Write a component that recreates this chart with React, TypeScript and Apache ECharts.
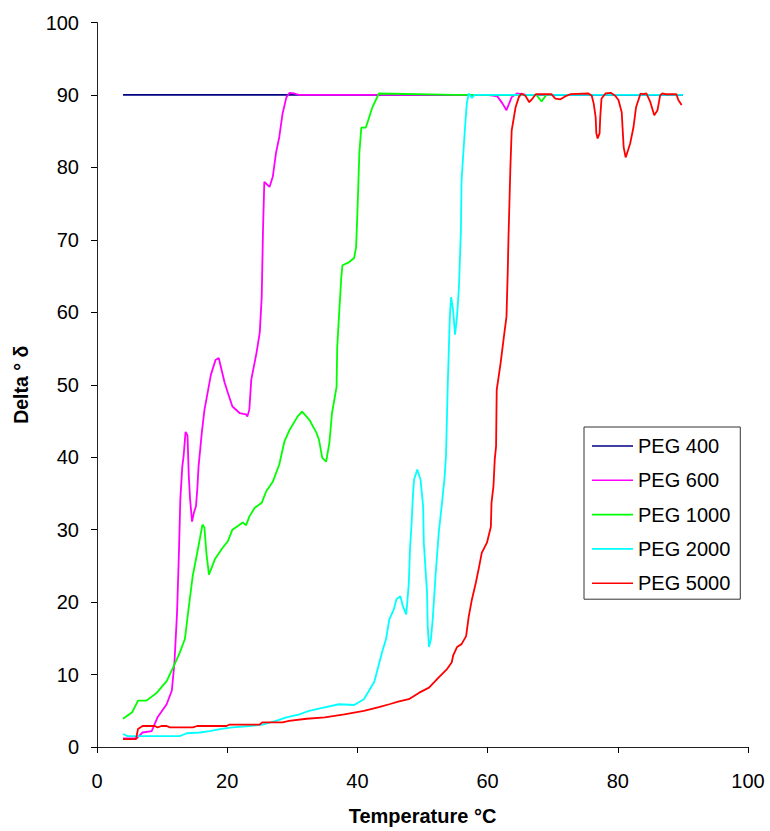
import React, { useEffect, useRef } from "react";
import * as echarts from "echarts";

// Temperature (°C) and phase angle delta (°) readings for each PEG grade
const peg400Temp = [4, 90];
const peg400Delta = [90, 90];

const peg600Temp = [4, 6.1, 7.0, 8.4, 9.3, 10.7, 11.5, 11.9, 12.3, 12.6, 12.8, 13.1, 13.3, 13.6, 13.9, 14.1, 14.3, 14.6, 14.9, 15.2, 15.4, 15.6, 16.1, 16.5, 17.5, 18.2, 18.7, 19.6, 20.1, 20.8, 21.9, 22.9, 23.1, 23.4, 23.7, 24.5, 25.0, 25.3, 25.5, 25.7, 26.5, 27.0, 27.5, 28.0, 28.5, 29.1, 29.6, 30.3, 31, 45, 60, 61.5, 62.3, 62.9, 63.7, 64.5, 66];
const peg600Delta = [1.2, 1.2, 2.0, 2.2, 4.1, 5.9, 7.8, 11.7, 18.6, 27.3, 34.2, 38.7, 40.1, 43.5, 43.0, 37.4, 34.2, 31.1, 32.4, 33.2, 35.5, 38.7, 43.4, 46.5, 51.4, 53.4, 53.7, 50.3, 48.9, 47.0, 46.1, 45.9, 45.6, 46.6, 50.7, 54.4, 57.2, 62.1, 71.3, 78.0, 77.3, 78.7, 82.0, 84.2, 87.4, 89.7, 90.3, 90.2, 90, 90, 90, 89.8, 88.8, 87.9, 89.7, 90.2, 90];

const peg1000Temp = [4.0, 5.4, 6.3, 7.6, 9.2, 10.7, 11.7, 12.7, 13.5, 14.0, 14.7, 15.5, 16.2, 16.5, 16.8, 17.2, 18.1, 19.3, 20.1, 20.8, 22.4, 22.9, 23.4, 24.2, 25.3, 26.0, 27.0, 28.0, 28.8, 29.6, 30.8, 31.5, 32.6, 33.7, 34.1, 34.6, 35.2, 35.7, 36.1, 36.8, 36.9, 37.2, 37.5, 37.7, 38.7, 39.5, 39.8, 40.0, 40.3, 40.6, 41.3, 41.8, 42.3, 43.3, 55, 67.5, 68.3, 69.0, 70];
const peg1000Delta = [3.9, 4.8, 6.4, 6.4, 7.5, 9.1, 11.0, 13.0, 14.9, 18.6, 23.6, 27.3, 30.7, 30.3, 26.8, 23.8, 25.9, 27.5, 28.4, 30.0, 31.0, 30.6, 31.8, 33.0, 33.7, 35.3, 36.6, 39.0, 42.2, 43.8, 45.6, 46.3, 45.2, 43.4, 42.4, 39.9, 39.4, 42.0, 46.1, 49.7, 55.2, 59.9, 64.5, 66.5, 66.9, 67.5, 69.0, 73.7, 82.0, 85.5, 85.5, 86.9, 88.3, 90.2, 90, 90, 89.1, 90, 90];

const peg2000Temp = [4.0, 4.7, 12.7, 13.8, 15.8, 17.3, 19.1, 20.8, 23.4, 25.4, 27.5, 29.1, 31.1, 32.6, 34.1, 37.2, 39.5, 41.0, 42.6, 43.8, 44.4, 44.9, 45.6, 46.0, 46.6, 47.0, 47.5, 47.7, 47.9, 48.1, 48.3, 48.5, 48.7, 49.2, 49.7, 50.1, 50.2, 50.7, 50.8, 51.0, 51.3, 51.6, 52.0, 52.5, 53.0, 53.4, 53.6, 53.9, 54.2, 54.4, 54.7, 55.0, 55.3, 55.6, 55.9, 56.0, 56.5, 56.8, 57.1, 57.6, 58.0, 90];
const peg2000Delta = [1.8, 1.5, 1.5, 1.9, 2.0, 2.2, 2.5, 2.7, 2.9, 3.1, 3.6, 4.1, 4.5, 5.0, 5.3, 5.9, 5.8, 6.6, 9.0, 13.1, 14.9, 17.6, 19.0, 20.4, 20.8, 19.4, 18.3, 20.4, 22.7, 27.7, 30.4, 34.2, 36.9, 38.3, 36.9, 33.2, 28.2, 21.3, 16.7, 13.8, 14.9, 18.0, 23.6, 29.6, 33.7, 37.3, 40.0, 50.7, 59.4, 62.1, 60.3, 56.9, 59.4, 63.5, 71.3, 78.2, 85.1, 88.8, 90.2, 89.6, 90, 90];

const peg5000Temp = [4.0, 6.0, 6.3, 7.0, 8.9, 9.3, 9.9, 10.7, 11.2, 14.7, 15.4, 19.9, 20.4, 25.0, 25.4, 28.5, 29.5, 32.2, 35, 38, 41, 43.3, 44.9, 46.4, 47.9, 49.5, 51.0, 52.5, 53.8, 54.5, 54.7, 55.3, 56.0, 56.7, 57.1, 57.6, 58.2, 58.7, 59.1, 59.9, 60.5, 60.6, 60.9, 61.1, 61.3, 61.4, 62.0, 62.5, 62.9, 63.1, 63.2, 63.5, 63.7, 64.3, 64.8, 65.2, 65.8, 66.4, 66.9, 67.4, 69.8, 70.4, 71.2, 71.9, 72.7, 75.5, 76.0, 76.3, 76.6, 76.7, 76.9, 77.2, 77.3, 77.5, 78.1, 78.9, 79.6, 80.1, 80.6, 80.9, 81.2, 81.3, 81.9, 82.4, 82.8, 83.5, 83.9, 84.4, 85.0, 85.6, 86.1, 86.5, 86.8, 87.3, 89.0, 89.3, 89.8];
const peg5000Delta = [1.1, 1.1, 2.5, 2.9, 2.9, 2.7, 2.9, 2.9, 2.7, 2.7, 2.9, 2.9, 3.1, 3.1, 3.4, 3.4, 3.6, 3.9, 4.1, 4.5, 5.0, 5.5, 5.9, 6.3, 6.6, 7.5, 8.2, 9.6, 10.8, 11.7, 12.6, 13.8, 14.2, 15.3, 18.0, 20.4, 22.7, 24.9, 26.8, 28.2, 30.4, 33.7, 36.0, 39.7, 41.5, 49.3, 53.0, 56.6, 59.4, 65.8, 70.0, 80.0, 85.1, 88.3, 89.7, 90.2, 89.9, 89.0, 89.5, 90.1, 90.1, 89.5, 89.4, 89.8, 90.1, 90.2, 89.9, 88.8, 86.9, 84.7, 84.0, 84.7, 86.9, 89.5, 90.2, 90.3, 89.9, 89.3, 87.6, 82.8, 81.4, 81.6, 83.3, 85.5, 88.3, 90.2, 90.1, 90.2, 89.0, 87.2, 87.9, 89.9, 90.2, 90.1, 90.1, 89.3, 88.6];

const seriesNames = ["PEG 400", "PEG 600", "PEG 1000", "PEG 2000", "PEG 5000"];
const seriesColors = ["#000080", "#ff00ff", "#00ff00", "#00ffff", "#ff0000"];
const seriesTemps = [peg400Temp, peg600Temp, peg1000Temp, peg2000Temp, peg5000Temp];
const seriesDeltas = [peg400Delta, peg600Delta, peg1000Delta, peg2000Delta, peg5000Delta];

const FONT = "'Liberation Sans', Arial, Helvetica, sans-serif";

export default function App() {
  const ref = useRef<HTMLDivElement>(null);

  useEffect(() => {
    if (!ref.current) return;
    const chart = echarts.init(ref.current, null, { renderer: "svg" });
    const series = seriesNames.map((name, i) => ({
      name,
      type: "line",
      symbol: "none",
      data: seriesTemps[i].map((t, j) => [t, seriesDeltas[i][j]]),
      lineStyle: { color: seriesColors[i], width: 1.8 },
      itemStyle: { color: seriesColors[i] },
      z: 2 + i,
    }));
    chart.setOption({
      animation: false,
      backgroundColor: "#ffffff",
      textStyle: { fontFamily: FONT },
      grid: { left: 97, right: 22, top: 22.5, bottom: 83, containLabel: false },
      legend: {
        orient: "vertical",
        left: 584,
        top: 427,
        data: seriesNames,
        itemWidth: 41,
        itemHeight: 20,
        itemGap: 14.3,
        padding: [9, 10, 6, 8],
        borderColor: "#333333",
        borderWidth: 1,
        textStyle: { fontSize: 20, color: "#000", fontFamily: FONT },
        icon: "path://M0,9.2 L41,9.2 L41,10.8 L0,10.8 Z",
      },
      xAxis: {
        type: "value",
        min: 0,
        max: 100,
        interval: 20,
        name: "Temperature °C",
        nameLocation: "middle",
        nameGap: 59,
        nameTextStyle: { fontSize: 20, fontWeight: "bold", color: "#000", fontFamily: FONT },
        axisLine: { show: true, lineStyle: { color: "#222", width: 1 } },
        axisTick: { show: true, length: 6, lineStyle: { color: "#000" } },
        axisLabel: { fontSize: 20, color: "#000", margin: 24, fontFamily: FONT },
        splitLine: { show: false },
      },
      yAxis: {
        type: "value",
        min: 0,
        max: 100,
        interval: 10,
        name: "Delta ° δ",
        nameLocation: "middle",
        nameGap: 66,
        nameRotate: 90,
        nameTextStyle: { fontSize: 19.5, fontWeight: "bold", color: "#000", fontFamily: FONT },
        axisLine: { show: true, lineStyle: { color: "#222", width: 1 } },
        axisTick: { show: true, length: 6, lineStyle: { color: "#000" } },
        axisLabel: { fontSize: 20, color: "#000", margin: 18, fontFamily: FONT },
        splitLine: { show: false },
      },
      series,
    });
    return () => chart.dispose();
  }, []);

  return (
    <div
      ref={ref}
      style={{ position: "absolute", left: 0, top: 0, width: 770, height: 831 }}
    />
  );
}
